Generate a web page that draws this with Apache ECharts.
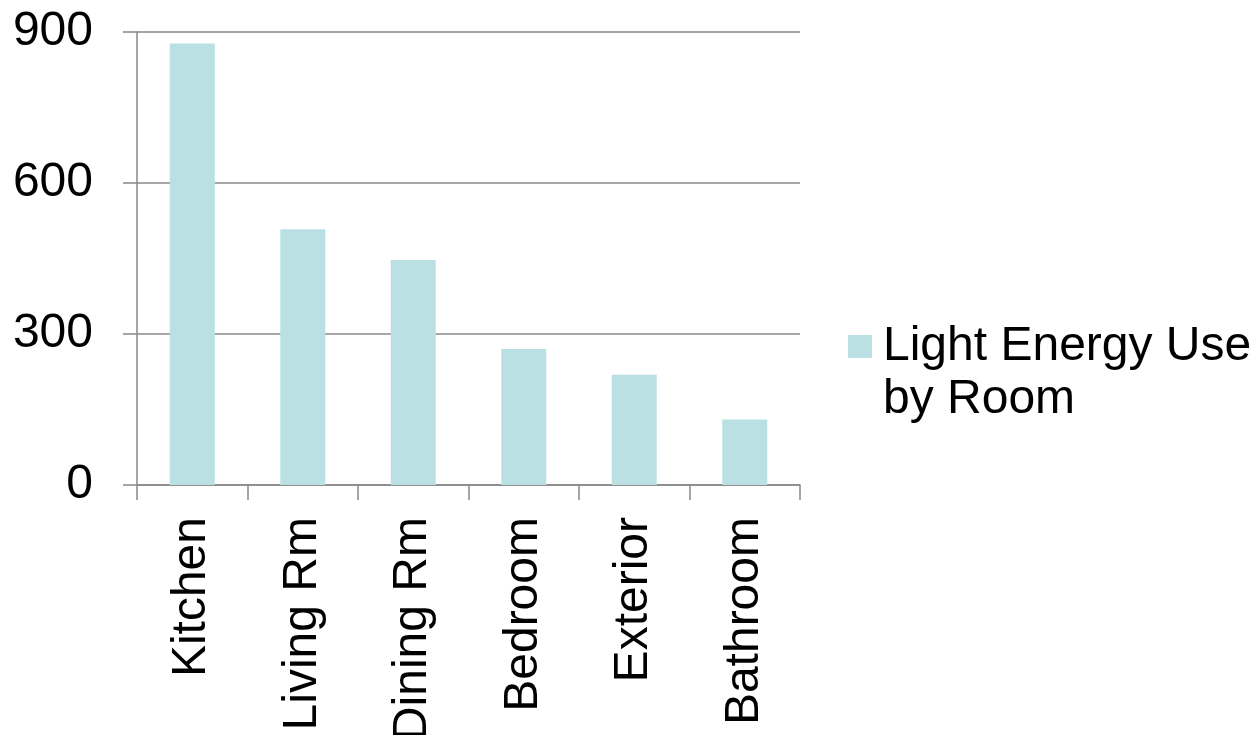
<!DOCTYPE html>
<html>
<head>
<meta charset="utf-8">
<script src="https://cdn.jsdelivr.net/npm/echarts@6/dist/echarts.min.js"></script>
<style>
html,body{margin:0;padding:0;background:#fff;}
#chart{width:1256px;height:735px;}
</style>
</head>
<body>
<div id="chart"></div>
<script>
const categories = ['Kitchen', 'Living Rm', 'Dining Rm', 'Bedroom', 'Exterior', 'Bathroom'];
const energyUse = [877, 508, 447, 270, 219, 130];
const seriesName = 'Light Energy Use by Room';
const legendLines = ['Light Energy Use', 'by Room'];
const yTicks = [0, 300, 600, 900];

const chart = echarts.init(document.getElementById('chart'));
const FONT = '"Liberation Sans", Arial, sans-serif';
chart.setOption({
  animation: false,
  backgroundColor: '#ffffff',
  textStyle: { fontFamily: FONT },
  grid: { left: 137, right: 456, top: 32, bottom: 250, containLabel: false, outerBoundsMode: 'none' },
  legend: {
    data: [seriesName],
    left: 848,
    top: 267,
    padding: 0,
    itemWidth: 24,
    itemHeight: 23,
    itemGap: 0,
    icon: 'rect',
    formatter: function () {
      return '{t| }\n' + legendLines.map(function (s) { return '{t|' + s + '}'; }).join('\n');
    },
    textStyle: {
      fontSize: 48, color: '#000', fontFamily: FONT, lineHeight: 53,
      rich: { t: { fontSize: 48, color: '#000', fontFamily: FONT, lineHeight: 53, padding: [0, 0, 0, 6] } }
    }
  },
  xAxis: {
    type: 'category',
    data: categories,
    axisLine: { lineStyle: { color: '#888888', width: 1.5 } },
    axisTick: { show: true, length: 15, lineStyle: { color: '#888888', width: 1.5 } },
    axisLabel: { rotate: 90, margin: 32, fontSize: 48, color: '#000', fontFamily: FONT, interval: 0 }
  },
  yAxis: {
    type: 'value',
    min: yTicks[0],
    max: yTicks[yTicks.length - 1],
    interval: yTicks[1] - yTicks[0],
    axisLine: { show: true, lineStyle: { color: '#888888', width: 1.5 } },
    axisTick: { show: true, length: 14, lineStyle: { color: '#888888', width: 1.5 } },
    splitLine: { show: true, lineStyle: { color: '#888888', width: 1.5 } },
    axisLabel: { margin: 44, fontSize: 48, color: '#000', fontFamily: FONT }
  },
  series: [{
    name: seriesName,
    type: 'bar',
    data: energyUse,
    barWidth: 45,
    itemStyle: { color: '#BAE0E3' }
  }]
});
</script>
</body>
</html>
